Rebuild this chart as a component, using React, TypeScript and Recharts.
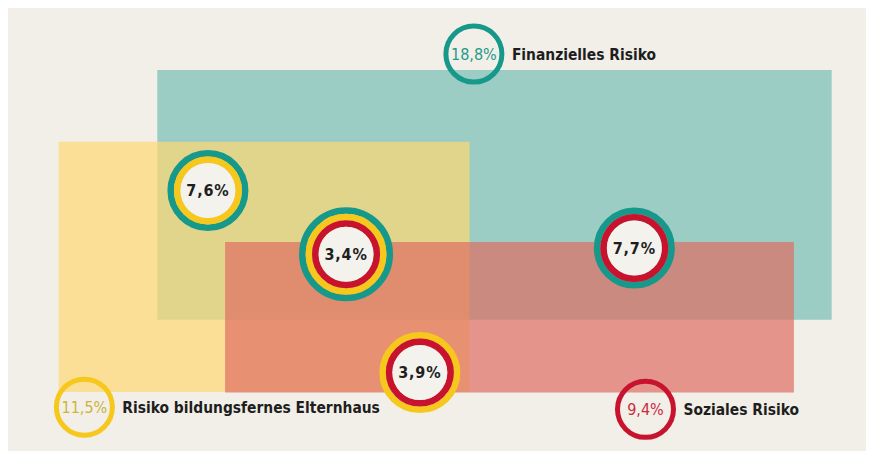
import React from 'react';
import { ScatterChart, Scatter, XAxis, YAxis, ReferenceArea } from 'recharts';

// risk groups: label, share of pupils (%)
const groupLabels = ['Finanzielles Risiko', 'Risiko bildungsfernes Elternhaus', 'Soziales Risiko'];
const groupShares = [18.8, 11.5, 9.4];

// overlaps between the groups (indices into groupLabels)
const overlapShares = [7.6, 3.4, 7.7, 3.9];
const overlapMembers = [[0, 1], [0, 1, 2], [0, 2], [1, 2]];

// layout on a 0..100 grid
const boxX1 = [17.4, 5.9, 25.3];
const boxX2 = [96.0, 53.8, 91.6];
const boxY1 = [14.0, 30.2, 52.8];
const boxY2 = [70.4, 86.7, 86.8];
const groupPosX = [54.3, 8.9, 74.3];
const groupPosY = [10.4, 90.1, 90.6];
const overlapPosX = [23.3, 39.4, 73.0, 48.0];
const overlapPosY = [41.2, 55.6, 54.2, 82.3];

const ringColors = ['#16998a', '#f6c71c', '#c8132f'];
const boxColors = ['#9bcdc4', '#ffd973', '#de6e62'];
const boxOpacity = [1, 0.7, 0.7];
const shareTextColors = ['#1f9a8b', '#cdb43c', '#c92a41'];

const FONT = '"DejaVu Sans Condensed", "DejaVu Sans", sans-serif';
const fmt = (v: number) => v.toFixed(1).replace('.', ',') + '%';

const groupData = groupLabels.map((label, i) => ({
  x: groupPosX[i],
  y: groupPosY[i],
  label,
  value: groupShares[i],
  idx: i,
}));

const overlapData = overlapShares.map((v, i) => ({
  x: overlapPosX[i],
  y: overlapPosY[i],
  value: v,
  members: overlapMembers[i],
}));

const GroupBadge = (props: any) => {
  const { cx, cy, payload } = props;
  const i = payload.idx;
  return (
    <g>
      <circle cx={cx} cy={cy} r={28} fill="none" stroke={ringColors[i]} strokeWidth={5} />
      <text x={cx} y={cy} dy={5.5} textAnchor="middle" fontFamily={FONT} fontSize={16} fill={shareTextColors[i]}>
        {fmt(payload.value)}
      </text>
      <text x={cx + 38} y={cy} dy={5.5} fontFamily={FONT} fontWeight="bold" fontSize={15.4} fill="#1e1e1e">
        {payload.label}
      </text>
    </g>
  );
};

const OverlapBadge = (props: any) => {
  const { cx, cy, payload } = props;
  const members: number[] = payload.members;
  const ringW = 6.5;
  const inner = 27.5;
  const outer = inner + members.length * ringW;
  return (
    <g>
      {members.map((m, k) => (
        <circle key={m} cx={cx} cy={cy} r={outer - k * ringW - ringW / 2} fill="none" stroke={ringColors[m]} strokeWidth={ringW} />
      ))}
      <circle cx={cx} cy={cy} r={inner} fill="#f4f2ed" />
      <text x={cx} y={cy} dy={5.5} textAnchor="middle" fontFamily={FONT} fontWeight="bold" fontSize={16} letterSpacing={0.8} fill="#1e1e1e">
        {fmt(payload.value)}
      </text>
    </g>
  );
};

export default function App() {
  return (
    <div style={{ width: 858, height: 443, background: '#f2efe8' }}>
      <ScatterChart width={858} height={443} margin={{ top: 0, right: 0, bottom: 0, left: 0 }}>
        <XAxis type="number" dataKey="x" domain={[0, 100]} hide />
        <YAxis type="number" dataKey="y" domain={[0, 100]} reversed hide />
        {boxX1.map((_, i) => (
          <ReferenceArea
            key={i}
            x1={boxX1[i]}
            x2={boxX2[i]}
            y1={boxY1[i]}
            y2={boxY2[i]}
            fill={boxColors[i]}
            fillOpacity={boxOpacity[i]}
            stroke="none"
            ifOverflow="visible"
          />
        ))}
        <Scatter data={overlapData} shape={OverlapBadge} isAnimationActive={false} />
        <Scatter data={groupData} shape={GroupBadge} isAnimationActive={false} />
      </ScatterChart>
    </div>
  );
}
